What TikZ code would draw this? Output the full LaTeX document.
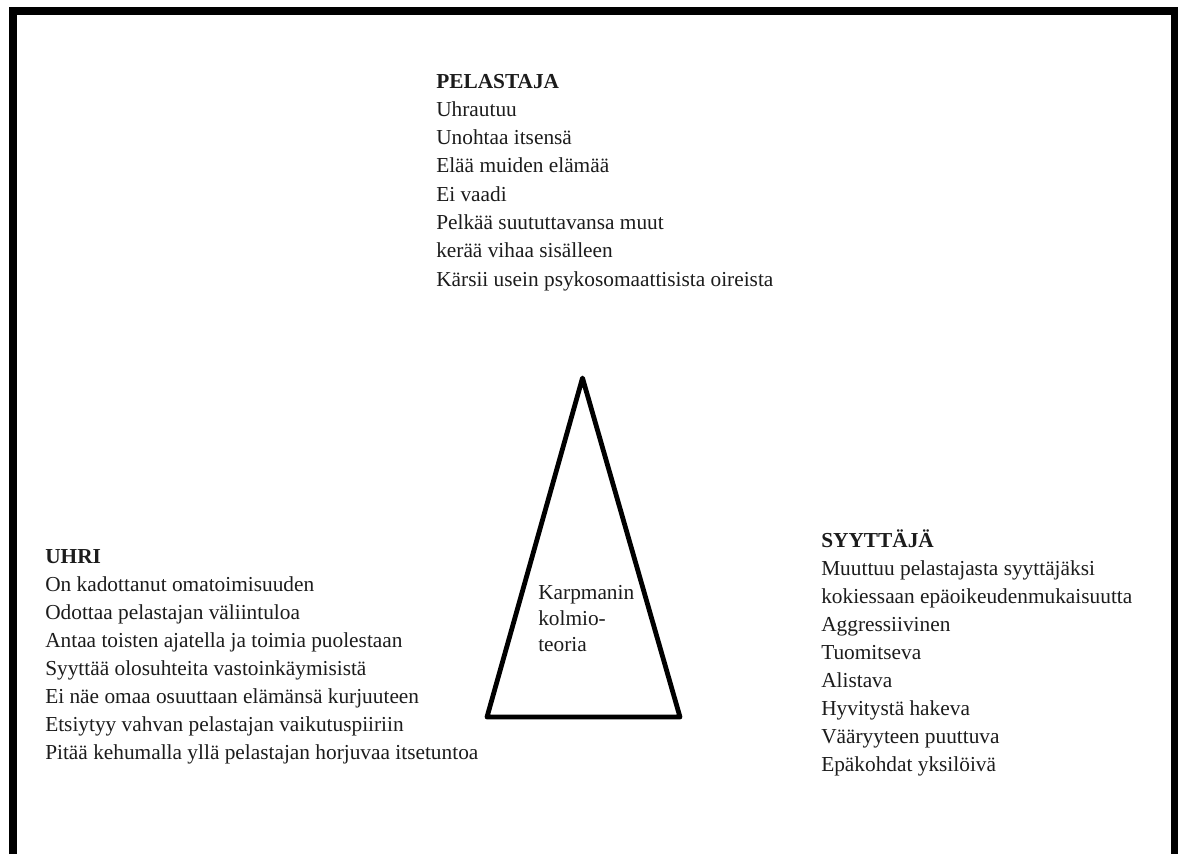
\documentclass[tikz,border=0pt]{standalone}
\usepackage{fontspec}
\setmainfont{Liberation Serif}
\usepackage{tikz}
\definecolor{ink}{HTML}{1C1C1C}
\tikzset{
  txt/.style={font=\fontsize{16}{19}\selectfont, text=ink, inner sep=0pt, anchor=base west},
  head/.style={txt, font=\fontsize{16}{19}\selectfont\bfseries},
  frame/.style={line width=6pt, draw=black},
  tri/.style={line width=3.6pt, draw=black, line join=round, line cap=round},
}

\begin{document}
\begin{tikzpicture}[x=0.75pt,y=-0.75pt]
  \useasboundingbox (0,0) rectangle (1178,854);
  \fill[white] (0,0) rectangle (1178,854);
  % frame, open at the bottom
  \draw[frame] (13,854) -- (13,11) -- (1175,11) -- (1175,854);
  % pelastaja
  \node[head] (pel) at (436,88) {PELASTAJA};
  \foreach \t [count=\i] in {Uhrautuu, Unohtaa itsensä, Elää muiden elämää, Ei vaadi,
      Pelkää suututtavansa muut, kerää vihaa sisälleen, Kärsii usein psykosomaattisista oireista}
    \node[txt] (pel-\i) at (436,{88+28.3*\i}) {\t};
  % uhri
  \node[head] (uhri) at (45,563) {UHRI};
  \foreach \t [count=\i] in {On kadottanut omatoimisuuden, Odottaa pelastajan väliintuloa,
      Antaa toisten ajatella ja toimia puolestaan, Syyttää olosuhteita vastoinkäymisistä,
      Ei näe omaa osuuttaan elämänsä kurjuuteen, Etsiytyy vahvan pelastajan vaikutuspiiriin,
      Pitää kehumalla yllä pelastajan horjuvaa itsetuntoa}
    \node[txt] (uhri-\i) at (45,{563+28*\i}) {\t};
  % syyttaja
  \node[head] (syy) at (821,547) {SYYTTÄJÄ};
  \foreach \t [count=\i] in {Muuttuu pelastajasta syyttäjäksi, kokiessaan epäoikeudenmukaisuutta,
      Aggressiivinen, Tuomitseva, Alistava, Hyvitystä hakeva, Vääryyteen puuttuva, Epäkohdat yksilöivä}
    \node[txt] (syy-\i) at (821,{547+28*\i}) {\t};
  % triangle
  \coordinate (apex) at (582.5,378);
  \coordinate (bl) at (487,717);
  \coordinate (br) at (680,717);
  \draw[tri] (apex) -- (br) -- (bl) -- cycle;
  \foreach \t [count=\i] in {Karpmanin, kolmio-, teoria}
    \node[txt] (kt-\i) at (538,{573+26*\i}) {\t};
\end{tikzpicture}
\end{document}
